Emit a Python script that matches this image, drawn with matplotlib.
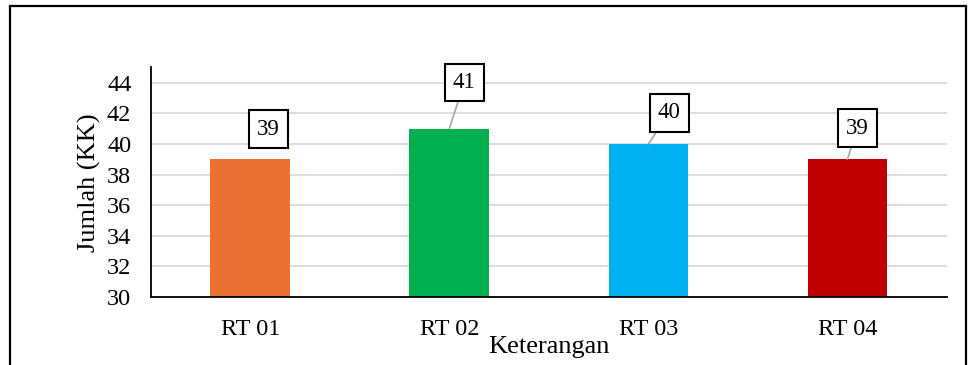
import matplotlib
matplotlib.use("Agg")
import matplotlib.pyplot as plt
from matplotlib.patches import Rectangle

plt.rcParams['font.family'] = ['Liberation Serif', 'DejaVu Serif']

categories = ["RT 01", "RT 02", "RT 03", "RT 04"]
values = [39, 41, 40, 39]
colors = ["#E97132", "#00B050", "#00B0F0", "#C00000"]
yticks = [30, 32, 34, 36, 38, 40, 42, 44]

# label box offsets (pixels) from the top centre of each bar
label_offsets = [(18, -30), (15, -46), (21, -31), (10, -31)]
show_leader = [False, True, True, True]

fig = plt.figure(figsize=(9.71, 3.65), dpi=100)

# outer chart frame
fig.add_artist(Rectangle((9.5 / 971, -0.1), (966 - 9.5) / 971, 1.1 - 6.5 / 365,
                         transform=fig.transFigure, fill=False,
                         edgecolor="black", linewidth=1.6))

ax = fig.add_axes([150.7 / 971, (365 - 297) / 365, (947 - 150.7) / 971,
                   (297 - 67.4) / 365])

x = range(len(categories))
ax.bar(x, values, width=0.40, color=colors, zorder=2)
ax.set_xlim(-0.5, len(categories) - 0.5)
ax.set_ylim(30, 45)
ax.set_yticks(yticks)
ax.set_xticks(list(x))
ax.set_xticklabels(categories)
ax.tick_params(axis="both", length=0, labelsize=17.5)
ax.tick_params(axis="y", pad=14)
ax.tick_params(axis="x", pad=15.5)
ax.grid(axis="y", color="#d9d9d9", linewidth=1.3, zorder=0)
ax.set_axisbelow(True)
for side in ("top", "right"):
    ax.spines[side].set_visible(False)
ax.spines["left"].set_linewidth(1.3)
ax.spines["bottom"].set_linewidth(1.3)

ax.set_ylabel("Jumlah (KK)", fontsize=19, labelpad=4)
ax.set_xlabel("Keterangan", fontsize=19, labelpad=-2.5)

for i, v in enumerate(values):
    dx, dy = label_offsets[i]
    arrow = dict(arrowstyle="-", color="#a6a6a6", lw=1.2,
                 shrinkA=0, shrinkB=0) if show_leader[i] else None
    ax.annotate(str(v), xy=(i, v), xytext=(dx, -dy),
                textcoords="offset pixels", ha="center", va="center",
                fontsize=16.5,
                bbox=dict(boxstyle="square,pad=0.36", fc="white",
                          ec="black", lw=1.5),
                arrowprops=arrow, zorder=3)

fig.savefig("out.png", dpi=100)
